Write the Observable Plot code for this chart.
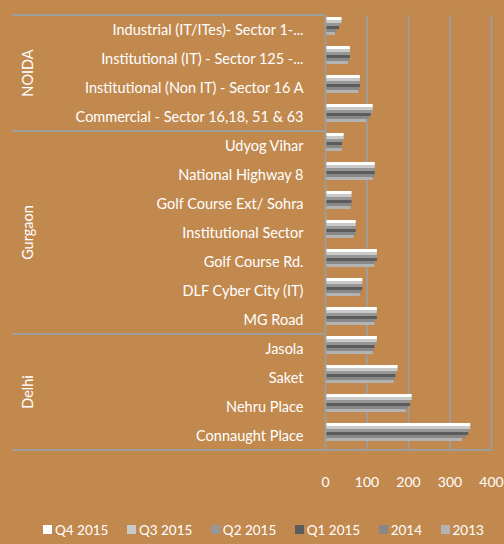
<!DOCTYPE html>
<html><head><meta charset="utf-8">
<script src="https://cdn.jsdelivr.net/npm/d3@7"></script>
<script src="https://cdn.jsdelivr.net/npm/@observablehq/plot@0.6"></script>
<style>
html,body{margin:0;padding:0;background:#c2894f;}
body{width:504px;height:544px;overflow:hidden;font-family:Lato,sans-serif;}
#legend{display:flex;height:29px;align-items:center;padding-left:43px;color:#fff;font-size:13.5px;}
.item{display:flex;align-items:center;margin-right:18.5px;white-space:nowrap}
.sw{width:9px;height:9px;margin-right:3px;display:inline-block}
</style></head><body><div id="chart"></div><div id="legend"></div>
<script>
const categories = [
  "Industrial (IT/ITes)- Sector 1-...",
  "Institutional (IT) - Sector 125 -...",
  "Institutional (Non IT) - Sector 16 A",
  "Commercial - Sector 16,18, 51 & 63",
  "Udyog Vihar",
  "National Highway 8",
  "Golf Course Ext/ Sohra",
  "Institutional Sector",
  "Golf Course Rd.",
  "DLF Cyber City (IT)",
  "MG Road",
  "Jasola",
  "Saket",
  "Nehru Place",
  "Connaught Place"
];
const categoryGroup = ["NOIDA","NOIDA","NOIDA","NOIDA",
  "Gurgaon","Gurgaon","Gurgaon","Gurgaon","Gurgaon","Gurgaon","Gurgaon",
  "Delhi","Delhi","Delhi","Delhi"];
const groups = ["NOIDA","Gurgaon","Delhi"];
const seriesNames = ["Q4 2015","Q3 2015","Q2 2015","Q1 2015","2014","2013"];
const seriesColors = ["#ffffff","#cacaca","#979797","#5c5c5c","#888888","#b3b3b3"];
const q4_2015 = [40,60,84,115,45,120,64,74,125,90,125,125,175,209,350];
const q3_2015 = [40,60,84,115,45,120,64,74,125,90,125,125,175,209,350];
const q2_2015 = [36,60,84,115,44,120,64,74,125,88,125,123,171,205,347];
const q1_2015 = [34,60,84,110,41,120,64,74,125,90,125,119,170,205,345];
const y2014   = [28,59,84,107,40,119,64,74,120,88,120,118,168,200,340];
const y2013   = [24,55,80,99,41,115,61,69,119,84,119,115,165,195,330];
const xTicks = [0,100,200,300,400];
const gridTicks = [100,200,300,400];

const seriesValues = [q4_2015,q3_2015,q2_2015,q1_2015,y2014,y2013];
const rows = [];
categories.forEach((c,i)=>seriesNames.forEach((s,j)=>rows.push({category:c, series:s, value:seriesValues[j][i]})));

const lineColor = "#9e9e9e";
const plot = Plot.plot({
  width: 504, height: 515,
  marginTop: 15, marginBottom: 65, marginLeft: 325, marginRight: 13,
  style: {background: "transparent", color: "#ffffff", fontFamily: "Lato, sans-serif", fontSize: "14px"},
  x: {domain: [0,400], axis: null},
  y: {domain: seriesNames, axis: null, paddingInner: 0, paddingOuter: 0.69, align: 0.2},
  fy: {domain: categories, padding: 0, axis: null},
  color: {domain: seriesNames, range: seriesColors},
  marks: [
    Plot.ruleX(gridTicks, {stroke: lineColor, strokeWidth: 1.8}),
    Plot.barX(rows, {x: "value", y: "series", fy: "category", fill: "series"}),
    Plot.ruleX([0], {stroke: lineColor, strokeWidth: 1.8}),
    Plot.axisX(xTicks, {tickSize: 0, tickPadding: 27, fill: "#ffffff", fontSize: 14, label: null}),
    Plot.axisFy({anchor: "left", tickSize: 0, tickPadding: 22, fill: "#ffffff", fontSize: 14.5, label: null})
  ]
});
document.getElementById("chart").appendChild(plot);

// group brackets & labels from the scales
const fy = plot.scale("fy"), xs = plot.scale("x");
const svg = d3.select(plot);
const bw = fy.bandwidth;
const x0 = xs.apply(0);
const g = svg.append("g");
groups.forEach(gr => {
  const cats = categories.filter((c,i)=>categoryGroup[i]===gr);
  const top = fy.apply(cats[0]);
  const bot = fy.apply(cats[cats.length-1]) + bw;
  g.append("line").attr("x1",12).attr("x2",x0).attr("y1",top).attr("y2",top)
    .attr("stroke",lineColor).attr("stroke-width",1.8);
  g.append("text").attr("transform",`translate(27,${(top+bot)/2}) rotate(-90)`)
    .attr("text-anchor","middle").attr("dominant-baseline","central")
    .attr("fill","#ffffff").style("font","14.5px Lato, sans-serif").text(gr);
});
const bottom = fy.apply(categories[categories.length-1]) + bw;
g.append("line").attr("x1",12).attr("x2",xs.apply(400)).attr("y1",bottom).attr("y2",bottom)
  .attr("stroke",lineColor).attr("stroke-width",1.8);

// legend
const leg = d3.select("#legend");
seriesNames.forEach((s,i)=>{
  const it = leg.append("div").attr("class","item");
  it.append("span").attr("class","sw").style("background",seriesColors[i]);
  it.append("span").text(s);
});
</script></body></html>
